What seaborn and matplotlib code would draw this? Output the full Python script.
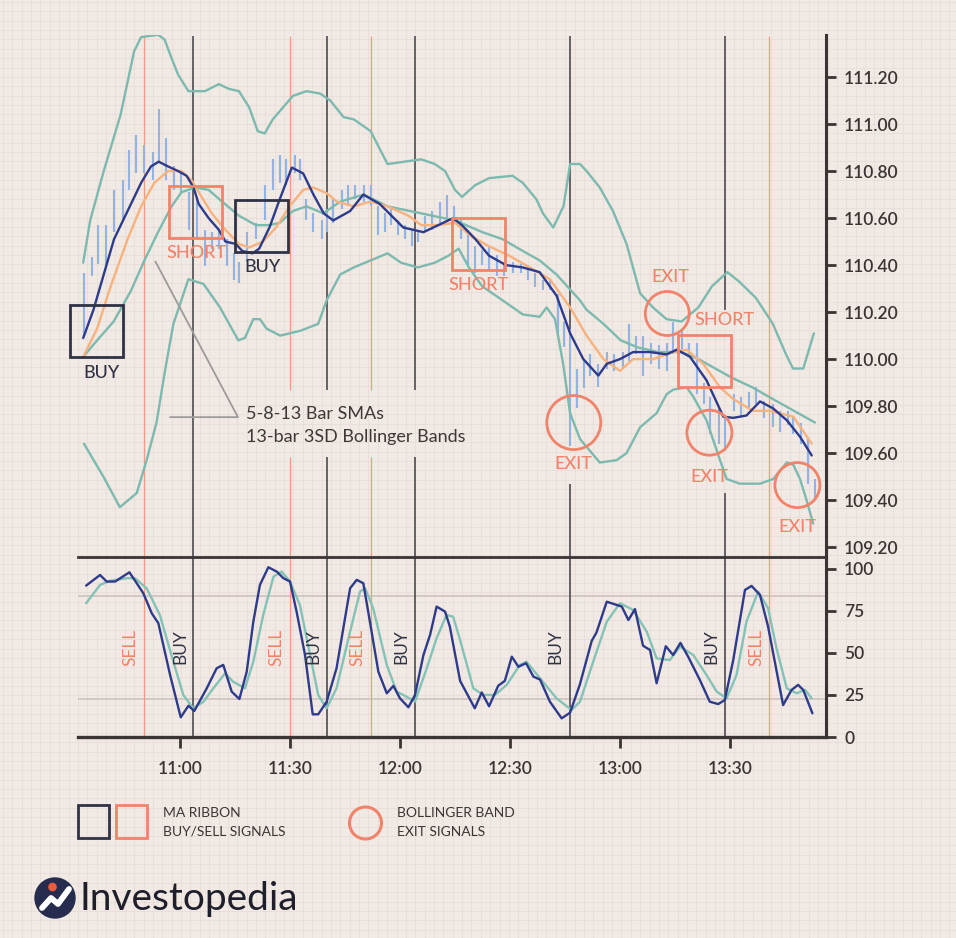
import matplotlib
matplotlib.use("Agg")
import matplotlib.pyplot as plt
import numpy as np
import pandas as pd
import seaborn as sns
from matplotlib.patches import Rectangle, Circle

# ---------------- data (x = minutes after 10:00) ----------------
bar_time = [33.9, 36.0, 37.7, 39.9, 41.9, 44.4, 46.0, 48.0, 50.2, 52.7, 54.3, 56.3, 58.5, 60.4, 62.4,
            64.6, 66.8, 68.7, 70.7, 72.9, 74.8, 76.1, 78.4, 80.6, 83.1, 85.3, 87.3, 88.9, 91.4, 92.8,
            94.4, 96.4, 98.6, 100.1, 101.8, 104.3, 105.9, 107.8, 110.1, 112.0, 113.9, 115.9, 117.6,
            119.5, 121.4, 123.4, 125.0, 126.9, 128.8, 130.9, 132.8, 134.7, 136.6, 138.6, 140.5, 142.4,
            144.4, 146.6, 148.5, 150.7, 152.9, 154.8, 156.8, 159.0, 160.9, 163.0, 164.8, 166.4, 168.3,
            170.1, 171.9, 174.1, 176.5, 178.3, 180.7, 182.4, 184.4, 186.3, 188.5, 190.7, 192.7, 194.6,
            196.8, 198.8, 200.9, 202.9, 204.5, 207.0, 208.7, 211.2, 212.9, 215.3, 217.0, 219.4, 221.7,
            223.6, 225.8, 227.2, 229.3, 231.3, 233.2]
bar_high = [110.365, 110.435, 110.57, 110.57, 110.72, 110.76, 110.89, 110.955, 110.91, 110.88, 111.065,
            110.94, 110.82, 110.79, 110.71, 110.68, 110.55, 110.54, 110.55, 110.51, 110.45, 110.415,
            110.54, 110.58, 110.74, 110.85, 110.87, 110.85, 110.87, 110.85, 110.68, 110.62, 110.59,
            110.64, 110.68, 110.72, 110.74, 110.74, 110.74, 110.74, 110.65, 110.62, 110.65, 110.59,
            110.57, 110.55, 110.55, 110.61, 110.63, 110.67, 110.70, 110.65, 110.59, 110.55, 110.48,
            110.465, 110.48, 110.445, 110.415, 110.415, 110.405, 110.385, 110.365, 110.335, 110.335,
            110.275, 110.16, 110.13, 109.96, 109.995, 110.02, 109.98, 110.03, 110.02, 110.03, 110.15,
            110.10, 110.10, 110.07, 110.06, 110.07, 110.16, 110.13, 110.07, 110.07, 109.90, 109.84,
            109.79, 109.76, 109.85, 109.84, 109.86, 109.88, 109.82, 109.81, 109.78, 109.78, 109.76,
            109.73, 109.67, 109.49]
bar_low = [110.10, 110.355, 110.405, 110.395, 110.54, 110.59, 110.72, 110.79, 110.79, 110.76, 110.84,
           110.76, 110.72, 110.71, 110.55, 110.51, 110.395, 110.47, 110.47, 110.395, 110.335, 110.325,
           110.415, 110.51, 110.59, 110.72, 110.75, 110.74, 110.79, 110.76, 110.59, 110.54, 110.51,
           110.54, 110.58, 110.64, 110.65, 110.68, 110.67, 110.65, 110.53, 110.54, 110.57, 110.53,
           110.51, 110.48, 110.50, 110.54, 110.55, 110.58, 110.59, 110.58, 110.51, 110.40, 110.365,
           110.40, 110.375, 110.355, 110.355, 110.365, 110.365, 110.335, 110.305, 110.295, 110.295,
           110.10, 110.05, 109.63, 109.79, 109.875, 109.93, 109.88, 109.96, 109.95, 109.96, 109.99,
           110.02, 109.93, 109.98, 109.96, 109.95, 110.02, 110.02, 110.02, 109.85, 109.81, 109.68,
           109.64, 109.61, 109.78, 109.76, 109.79, 109.81, 109.75, 109.71, 109.69, 109.72, 109.68,
           109.64, 109.47, 109.40]

sma5_time = [33.6, 36.4, 39.2, 42.0, 45.7, 49.4, 52.1, 54.2, 56.7, 59.5, 61.8, 63.7, 65.1, 67.8, 70.6,
             72.4, 75.2, 77.0, 79.8, 81.6, 84.4, 87.2, 90.5, 93.6, 96.4, 99.2, 101.8, 106.4, 110.0,
             114.5, 120.9, 126.4, 134.5, 136.9, 140.6, 144.3, 148.9, 153.5, 158.1, 162.7, 166.4, 170.0,
             174.1, 176.4, 180.0, 183.6, 188.2, 192.7, 195.5, 199.1, 203.6, 208.2, 210.9, 214.5, 218.2,
             221.8, 225.5, 229.1, 232.3]
sma5 = [110.09, 110.21, 110.36, 110.51, 110.63, 110.75, 110.82, 110.84, 110.82, 110.80, 110.78, 110.73,
        110.66, 110.60, 110.55, 110.50, 110.49, 110.46, 110.45, 110.47, 110.56, 110.68, 110.815, 110.79,
        110.70, 110.62, 110.59, 110.63, 110.70, 110.66, 110.56, 110.54, 110.60, 110.57, 110.51, 110.44,
        110.40, 110.39, 110.37, 110.27, 110.11, 110.00, 109.93, 109.98, 110.00, 110.03, 110.03, 110.02,
        110.04, 110.01, 109.91, 109.755, 109.75, 109.76, 109.82, 109.79, 109.74, 109.67, 109.59]

sma8_time = [33.6, 37.4, 41.1, 45.7, 49.4, 53.0, 56.7, 60.4, 63.2, 65.9, 68.7, 72.4, 76.1, 78.9, 82.6,
             86.2, 89.9, 93.6, 96.4, 100.1, 102.8, 107.4, 112.0, 116.6, 122.3, 125.8, 130.4, 135.0,
             139.7, 144.3, 149.8, 155.4, 160.9, 166.4, 170.9, 175.5, 180.0, 183.6, 189.1, 194.5, 198.2,
             202.7, 207.3, 210.9, 216.3, 220.9, 227.3, 232.3]
sma8 = [110.01, 110.13, 110.31, 110.51, 110.65, 110.75, 110.80, 110.80, 110.76, 110.69, 110.62, 110.55,
        110.49, 110.475, 110.50, 110.56, 110.65, 110.72, 110.73, 110.705, 110.67, 110.65, 110.67, 110.65,
        110.61, 110.57, 110.57, 110.58, 110.52, 110.48, 110.44, 110.39, 110.34, 110.22, 110.10, 110.00,
        109.95, 110.00, 110.00, 110.03, 110.04, 109.98, 109.88, 109.83, 109.78, 109.78, 109.755, 109.64]

mid_time = [33.6, 37.4, 41.9, 46.6, 50.3, 54.0, 57.7, 60.4, 64.1, 67.8, 71.5, 76.1, 80.7, 84.4, 87.2,
            90.8, 94.5, 99.1, 103.7, 110.1, 116.6, 125.8, 135.0, 142.5, 148.0, 153.5, 158.1, 162.7,
            169.1, 170.9, 175.5, 180.2, 184.8, 190.4, 196.8, 201.4, 206.0, 210.6, 216.1, 221.7, 226.3,
            233.2]
mid_band = [110.01, 110.08, 110.16, 110.29, 110.42, 110.54, 110.65, 110.71, 110.73, 110.72, 110.67,
            110.61, 110.57, 110.57, 110.58, 110.63, 110.65, 110.62, 110.67, 110.70, 110.65, 110.62,
            110.59, 110.54, 110.51, 110.46, 110.42, 110.36, 110.25, 110.21, 110.15, 110.08, 110.05,
            110.03, 110.03, 110.00, 109.96, 109.92, 109.88, 109.83, 109.79, 109.73]

upper_time = [33.6, 35.5, 39.2, 43.8, 47.5, 49.4, 54.0, 55.8, 57.7, 59.5, 62.3, 66.8, 70.6, 73.3, 76.1,
              78.9, 81.2, 83.1, 85.3, 90.8, 94.5, 98.2, 101.0, 104.6, 107.4, 112.0, 116.6, 121.2,
              125.8, 129.5, 132.3, 135.0, 136.9, 140.5, 144.3, 150.7, 153.5, 157.2, 159.0, 161.8,
              164.6, 166.4, 169.1, 170.9, 174.5, 178.1, 181.8, 185.5, 189.0, 192.7, 196.8, 201.4,
              205.1, 209.3, 212.5, 217.1, 221.7, 225.3, 227.2, 230.0, 232.9]
upper_band = [110.41, 110.59, 110.80, 111.04, 111.31, 111.37, 111.38, 111.36, 111.28, 111.21, 111.14,
              111.14, 111.17, 111.15, 111.14, 111.07, 110.97, 110.96, 111.02, 111.12, 111.14, 111.13,
              111.10, 111.03, 111.02, 110.97, 110.83, 110.84, 110.85, 110.83, 110.80, 110.72, 110.69,
              110.74, 110.77, 110.78, 110.75, 110.68, 110.62, 110.56, 110.65, 110.83, 110.83, 110.80,
              110.73, 110.63, 110.49, 110.28, 110.22, 110.17, 110.16, 110.22, 110.31, 110.37, 110.33,
              110.26, 110.15, 110.02, 109.96, 109.96, 110.11]

lower_time = [33.8, 39.1, 43.6, 48.2, 50.9, 53.6, 55.9, 58.2, 62.3, 66.4, 70.9, 75.9, 77.7, 80.0, 81.8,
              83.6, 87.3, 92.7, 97.7, 100.0, 103.7, 107.4, 112.0, 116.6, 120.3, 124.9, 129.5, 133.2,
              136.0, 138.8, 142.4, 148.0, 153.5, 158.1, 160.0, 162.3, 164.5, 166.4, 169.1, 174.5,
              179.1, 181.8, 185.5, 190.0, 192.7, 194.5, 198.2, 200.0, 203.6, 207.3, 209.1, 212.7,
              218.2, 221.8, 225.5, 227.3, 229.1, 230.9, 232.7]
lower_band = [109.64, 109.50, 109.37, 109.43, 109.57, 109.73, 109.95, 110.15, 110.34, 110.32, 110.22,
              110.08, 110.09, 110.17, 110.17, 110.13, 110.10, 110.12, 110.15, 110.25, 110.36, 110.39,
              110.42, 110.45, 110.41, 110.39, 110.41, 110.44, 110.47, 110.39, 110.31, 110.25, 110.19,
              110.18, 110.22, 110.17, 109.98, 109.77, 109.66, 109.56, 109.57, 109.60, 109.71, 109.77,
              109.85, 109.87, 109.88, 109.84, 109.74, 109.57, 109.49, 109.47, 109.47, 109.49, 109.56,
              109.55, 109.49, 109.40, 109.30]

stoch_k_time = [34.4, 38.2, 40.0, 42.3, 46.2, 48.2, 50.0, 52.3, 54.1, 57.3, 60.2, 62.3, 63.9, 67.3,
                70.0, 71.8, 74.1, 76.2, 78.2, 80.0, 81.8, 84.1, 86.4, 88.2, 90.0, 91.8, 94.1, 96.2,
                97.7, 100.0, 102.7, 106.4, 108.2, 110.0, 111.8, 114.1, 116.4, 118.2, 120.0, 122.3,
                124.1, 126.4, 128.2, 130.0, 132.3, 133.6, 136.4, 140.4, 142.3, 144.3, 146.8, 148.6,
                150.5, 152.3, 154.4, 156.4, 158.2, 160.9, 164.1, 166.4, 169.1, 172.3, 173.6, 176.4,
                180.5, 182.3, 184.1, 186.3, 188.2, 190.0, 192.5, 194.5, 196.5, 198.6, 201.8, 204.5,
                206.8, 208.6, 210.9, 214.1, 215.9, 218.2, 220.4, 224.5, 226.8, 228.6, 230.0, 232.5]
stoch_k = [90.1, 96.4, 92.5, 92.5, 98.0, 91.5, 85.5, 73.6, 67.7, 36.9, 11.7, 18.6, 15.5, 29.0, 40.9,
           42.9, 27.0, 22.6, 38.9, 68.6, 90.5, 101.0, 98.4, 94.5, 92.5, 74.6, 48.8, 13.5, 13.5, 21.0,
           40.9, 88.5, 93.5, 91.5, 68.6, 38.9, 26.0, 30.4, 23.0, 17.7, 25.0, 48.8, 60.7, 77.6, 74.6,
           65.7, 33.4, 17.1, 26.5, 18.3, 30.5, 33.4, 47.8, 41.8, 43.9, 35.9, 34.2, 21.0, 11.1, 14.5,
           31.5, 57.2, 62.2, 80.5, 77.6, 69.6, 76.1, 54.3, 51.8, 32.0, 54.0, 48.8, 56.0, 47.8, 33.9,
           21.0, 19.6, 22.0, 45.8, 87.5, 89.9, 84.5, 65.7, 19.0, 28.0, 31.0, 28.0, 14.1]

stoch_d_time = [34.4, 38.2, 40.9, 45.5, 47.7, 50.9, 54.5, 58.2, 60.9, 63.6, 66.4, 69.1, 72.3, 74.5,
                77.7, 80.0, 82.7, 85.5, 87.7, 90.0, 92.7, 95.5, 97.7, 100.0, 102.7, 106.4, 109.1,
                110.5, 112.7, 116.4, 119.1, 121.8, 124.1, 127.3, 130.0, 132.7, 134.5, 136.4, 140.0,
                142.7, 145.9, 149.1, 152.7, 154.5, 158.2, 162.7, 166.8, 169.1, 172.7, 176.4, 180.0,
                183.6, 187.3, 190.0, 193.6, 196.4, 200.0, 203.6, 206.4, 209.1, 211.8, 214.5, 217.7,
                220.4, 222.7, 225.5, 228.2, 230.5, 232.3]
stoch_d = [79.6, 90.5, 92.9, 94.5, 94.5, 88.5, 72.6, 44.8, 25.0, 17.1, 21.0, 29.0, 37.9, 32.9, 29.0,
           44.8, 72.6, 95.4, 98.4, 92.5, 78.6, 48.8, 25.0, 17.1, 29.0, 62.7, 86.5, 88.5, 76.6, 42.9,
           27.0, 24.0, 21.0, 40.9, 58.8, 72.6, 71.6, 57.7, 29.0, 25.0, 25.0, 31.0, 42.9, 44.8, 34.9,
           23.0, 16.1, 21.0, 44.8, 68.6, 79.6, 75.6, 62.7, 46.8, 45.8, 53.8, 48.8, 36.9, 27.0, 23.0,
           36.9, 68.6, 86.5, 76.6, 52.8, 29.0, 26.0, 28.0, 23.0]

# signal vertical lines
signal_time = [50.2, 63.6, 90.0, 100.1, 112.1, 124.1, 166.4, 208.6, 220.6]
signal_kind = ["sell", "buy", "sell", "buy", "sell", "buy", "buy", "buy", "sell"]
gap_low = [None, None, 109.583, 109.583, 109.583, 109.583, 109.47, 109.43, None]
gap_high = [None, None, 109.868, 109.868, 109.868, 109.868, 109.63, 110.207, None]

# MA ribbon signal boxes (left time, bottom price)
box_left = [30.0, 57.0, 75.0, 134.2, 195.8]
box_bottom = [110.009, 110.515, 110.455, 110.379, 109.881]
box_kind = ["buy", "sell", "buy", "sell", "sell"]
box_label = ["BUY", "SHORT", "BUY", "SHORT", "SHORT"]
box_label_time = [38.5, 64.4, 82.4, 141.3, 208.4]
box_label_price = [109.94, 110.451, 110.392, 110.315, 110.166]

# Bollinger exit circles
exit_time = [167.4, 192.9, 204.4, 228.4]
exit_price = [109.730, 110.194, 109.687, 109.464]
exit_label_time = [167.4, 193.6, 204.3, 228.5]
exit_label_price = [109.553, 110.349, 109.498, 109.285]

# stochastic panel labels
stoch_label = ["SELL", "BUY", "SELL", "BUY", "SELL", "BUY", "BUY", "BUY", "SELL"]
stoch_label_time = [46.4, 60.0, 86.2, 96.3, 108.3, 120.3, 162.5, 204.8, 217.1]
stoch_grid = [84.0, 22.5]

# annotation pointer
note_time = [53.3, 75.8, 57.3]
note_price = [110.415, 109.753, 109.753]

price_ticks = [109.2, 109.4, 109.6, 109.8, 110.0, 110.2, 110.4, 110.6, 110.8, 111.0, 111.2]
stoch_ticks = [0, 25, 50, 75, 100]
time_ticks = [60, 90, 120, 150, 180, 210]
time_labels = ["11:00", "11:30", "12:00", "12:30", "13:00", "13:30"]

# ---------------- style ----------------
sns.set_theme(style="white")
plt.rcParams["font.family"] = ["Lato", "DejaVu Sans"]

BG = "#f1e9e3"
GRIDC = "#e8ddd8"
NAVY = "#2e3a8a"
ORANGE = "#f7b27e"
TEAL = "#7cb9af"
TEAL2 = "#83c2b6"
BARC = "#92b3e4"
SALMON = "#f0836a"
DARK = "#2f3244"
AXIS = "#3a3434"
VDARK = "#4d4b52"
VORANGE = "#f39a80"

W, H = 956, 938
fig = plt.figure(figsize=(W / 100, H / 100), dpi=100)
fig.patch.set_facecolor(BG)

bg = fig.add_axes([0, 0, 1, 1], zorder=0)
bg.set_xlim(0, W)
bg.set_ylim(H, 0)
bg.axis("off")
bg.vlines(np.arange(3, W, 9.37), 0, H, color=GRIDC, lw=0.6, zorder=1)
bg.hlines(np.arange(2, H, 9.37), 0, W, color=GRIDC, lw=0.6, zorder=1)

ax1 = fig.add_axes([78 / W, 1 - 557 / H, 748 / W, 522 / H], zorder=2)
ax2 = fig.add_axes([78 / W, 1 - 737 / H, 748 / W, 180 / H], zorder=2)
for ax in (ax1, ax2):
    ax.patch.set_alpha(0)
    ax.set_xlim(32.18, 236.2)
ax1.set_ylim(109.158, 111.379)
ax2.set_ylim(0, 107.1)

# vertical signal lines
for t, k, glo, ghi in zip(signal_time, signal_kind, gap_low, gap_high):
    c = VDARK if k == "buy" else VORANGE
    lw = 1.2 if k == "buy" else 0.9
    if glo is None:
        ax1.vlines(t, 109.0, 111.375, color=c, lw=lw, zorder=1)
    else:
        ax1.vlines(t, 109.0, glo, color=c, lw=lw, zorder=1)
        ax1.vlines(t, ghi, 111.375, color=c, lw=lw, zorder=1)
    ax2.vlines(t, 0, 107.1, color=c, lw=lw, zorder=1)

# price bars
ax1.vlines(bar_time, bar_low, bar_high, color=BARC, lw=1.5, zorder=2)

# bands and SMAs
bands = [(upper_time, upper_band, TEAL), (lower_time, lower_band, TEAL), (mid_time, mid_band, TEAL)]
for tt, vv, c in bands:
    sns.lineplot(x=tt, y=vv, ax=ax1, color=c, lw=1.7, sort=False, estimator=None, zorder=3)
sns.lineplot(x=sma8_time, y=sma8, ax=ax1, color=ORANGE, lw=1.7, sort=False, estimator=None, zorder=4)
sns.lineplot(x=sma5_time, y=sma5, ax=ax1, color=NAVY, lw=1.7, sort=False, estimator=None, zorder=5)

# signal boxes
for l, b, k in zip(box_left, box_bottom, box_kind):
    ax1.add_patch(Rectangle((l, b), 14.5, 0.221, fill=False, ec=DARK if k == "buy" else SALMON,
                            lw=2.0, zorder=6, clip_on=False))
for lab, t, p in zip(box_label, box_label_time, box_label_price):
    ax1.text(t, p, lab, color=DARK if lab == "BUY" else SALMON, fontsize=13, fontweight="medium",
             ha="center", va="center", zorder=7)

# exit circles
ax1.scatter(exit_time, exit_price, s=[1512, 1004, 1050, 1050], facecolors="none",
            edgecolors=SALMON, linewidths=2.0, zorder=6, clip_on=False)
for t, p in zip(exit_label_time, exit_label_price):
    ax1.text(t, p, "EXIT", color=SALMON, fontsize=13, fontweight="medium", ha="center",
             va="center", zorder=7)

# annotation
ax1.plot(note_time, note_price, color="#9c9a9a", lw=1.3, zorder=6)
ax1.text(78.0, 109.766, "5-8-13 Bar SMAs", fontsize=13, color="#3c3838", va="center", ha="left")
ax1.text(78.0, 109.668, "13-bar 3SD Bollinger Bands", fontsize=13, color="#3c3838", va="center",
         ha="left")

# stochastic panel
for g in stoch_grid:
    ax2.axhline(g, color="#cdc2bf", lw=1.2, zorder=0.5)
sns.lineplot(x=stoch_d_time, y=stoch_d, ax=ax2, color=TEAL2, lw=1.7, sort=False, estimator=None,
             zorder=3)
sns.lineplot(x=stoch_k_time, y=stoch_k, ax=ax2, color=NAVY, lw=1.7, sort=False, estimator=None,
             zorder=4)
for lab, t in zip(stoch_label, stoch_label_time):
    ax2.text(t, 53.5, lab, rotation=90, color=SALMON if lab == "SELL" else DARK, fontsize=12.5,
             ha="center", va="center", zorder=5)

# axes styling
for ax in (ax1, ax2):
    ax.spines["left"].set_visible(False)
    ax.spines["right"].set_linewidth(2.2)
    ax.spines["right"].set_color(AXIS)
    ax.yaxis.tick_right()
    ax.set_xlabel("")
    ax.set_ylabel("")
ax1.spines["top"].set_visible(False)
ax1.spines["bottom"].set_visible(False)
ax2.spines["top"].set_linewidth(2.0)
ax2.spines["top"].set_color(AXIS)
ax2.spines["bottom"].set_linewidth(2.4)
ax2.spines["bottom"].set_color(AXIS)

ax1.set_xticks([])
ax1.set_yticks(price_ticks)
ax1.set_yticklabels([f"{v:.2f}" for v in price_ticks])
ax2.set_yticks(stoch_ticks)
ax2.set_yticklabels([str(v) for v in stoch_ticks])
ax2.set_xticks(time_ticks)
ax2.set_xticklabels(time_labels)
for ax in (ax1, ax2):
    ax.tick_params(axis="y", direction="out", length=7, width=2, color=AXIS, labelcolor=AXIS,
                   labelsize=12.5, pad=6, right=True, left=False, labelright=True, labelleft=False)
ax2.tick_params(axis="x", direction="out", length=8, width=2, color=AXIS, labelcolor=AXIS,
                labelsize=12.5, pad=9, bottom=True)
for lbl in ax1.get_yticklabels() + ax2.get_yticklabels() + ax2.get_xticklabels():
    lbl.set_fontweight("semibold")

# legend (figure pixel coordinates)
bg.add_patch(Rectangle((78, 805), 31, 33, fill=False, ec=DARK, lw=2.0, zorder=5))
bg.add_patch(Rectangle((116, 805), 31, 33, fill=False, ec=SALMON, lw=2.0, zorder=5))
bg.text(163, 813, "MA RIBBON", fontsize=10, color="#3a3636", va="center", ha="left", zorder=5)
bg.text(163, 832, "BUY/SELL SIGNALS", fontsize=10, color="#3a3636", va="center", ha="left", zorder=5)
bg.add_patch(Circle((365.5, 823), 16, fill=False, ec=SALMON, lw=2.2, zorder=5))
bg.text(397, 813, "BOLLINGER BAND", fontsize=10, color="#3a3636", va="center", ha="left", zorder=5)
bg.text(397, 832, "EXIT SIGNALS", fontsize=10, color="#3a3636", va="center", ha="left", zorder=5)

# logo
bg.add_patch(Circle((55, 898), 20, color="#252c4e", zorder=5))
bg.plot([42, 51, 58, 69], [908, 898, 904, 889], color="white", lw=4.2, solid_capstyle="round",
        zorder=6)
bg.add_patch(Circle((52.5, 887), 3.6, color="#f05a3c", zorder=7))
bg.text(80, 899, "Investopedia", fontsize=28, color="#1f1f2c", va="center", ha="left", zorder=5)

fig.savefig("out.png", dpi=100, facecolor=BG)
